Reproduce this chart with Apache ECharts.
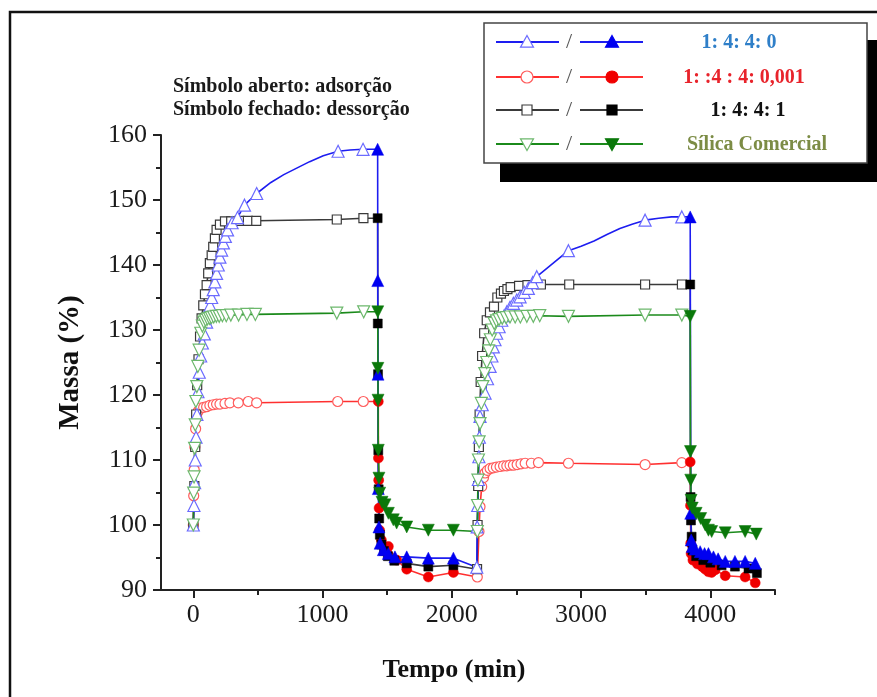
<!DOCTYPE html>
<html><head><meta charset="utf-8">
<script src="https://cdn.jsdelivr.net/npm/echarts@6/dist/echarts.min.js"></script>
<style>html,body{margin:0;padding:0;background:#fff}#c{width:877px;height:697px}</style>
</head><body><div id="c"></div>
<script>
const seriesNames = ['1: 4: 4: 0', '1: :4 : 4: 0,001', '1: 4: 4: 1', 'Sílica Comercial'];
const xTicks = [0, 1000, 2000, 3000, 4000];
const xMinorTicks = [500, 1500, 2500, 3500, 4500];
const noteLines = ['Símbolo aberto: adsorção', 'Símbolo fechado: dessorção'];

// 1: 4: 4: 0 (blue)
const blueAds1 = [[0,100],[5,103],[10,106.5],[15,110],[21,113.5],[28,117],[36,120.5],[46,123.5],[57,126],[70,128],[85,129.4],[103,131.2],[117,132.5],[130,133.8],[142,135],[154,136.2],[167,137.4],[180,138.7],[193,140],[206,141.2],[219,142.3],[233,143.4],[248,144.4],[265,145.4],[300,146.5],[342,147.3],[396,149.2],[490,151],[1120,157.5],[1313,157.8]];
const blueAds1Curve = [[600,152.7],[700,153.9],[800,154.9],[900,155.9],[1005,156.8],[1212,157.7]];
const blueDes1 = [[1426,157.8],[1427,137.6],[1429,123.2],[1431,105.6],[1436,99.7],[1445,97.2],[1470,96.2],[1509,95.6],[1560,95.1],[1651,95.1],[1818,94.9],[2012,94.9]];
const blueAds2 = [[2193,93.5],[2196,99.7],[2200,103],[2205,107],[2209,110.5],[2213,113.5],[2218,116.7],[2235,118.5],[2257,120.3],[2276,122.5],[2296,124.4],[2310,126],[2321,127.4],[2334,128.5],[2347,129.5],[2366,130.5],[2386,131.5],[2405,132.2],[2425,132.8],[2450,133.5],[2476,134.1],[2502,134.6],[2528,135.1],[2560,135.8],[2592,136.4],[2625,137.3],[2657,138.2],[2902,142.2],[3495,146.9],[3779,147.4]];
const blueAds2Curve = [[3000,142.9],[3100,143.7],[3200,144.7],[3300,145.6],[3400,146.3],[3600,147.2],[3700,147.4]];
const blueDes2 = [[3844,147.4],[3848,101.8],[3852,97.7],[3860,96.7],[3882,96.3],[3921,95.9],[3955,95.6],[3985,95.6],[4024,95.1],[4060,94.8],[4115,94.4],[4190,94.4],[4269,94.4],[4347,94.1]];

// 1: :4 : 4: 0,001 (red)
const redAds1 = [[0,100],[3,104.5],[7,108.5],[12,112],[18,114.8],[26,116.5],[38,117.5],[55,118],[80,118.1],[103,118.2],[128,118.4],[154,118.5],[180,118.6],[206,118.6],[245,118.7],[283,118.8],[348,118.8],[425,119],[490,118.8],[1117,119],[1315,119]];
const redDes1 = [[1431,119],[1432,110.3],[1434,106.9],[1437,102.6],[1441,99.2],[1455,97.7],[1509,96.7],[1573,94.6],[1651,93.2],[1818,92],[2012,92.7]];
const redAds2 = [[2197,92],[2210,99],[2218,102.8],[2231,105.9],[2245,107.3],[2257,108],[2275,108.4],[2296,108.7],[2320,108.8],[2345,108.9],[2373,109],[2400,109.1],[2425,109.1],[2450,109.2],[2476,109.2],[2505,109.3],[2535,109.4],[2567,109.5],[2615,109.5],[2670,109.6],[2902,109.5],[3495,109.3],[3779,109.6]];
const redDes2 = [[3844,109.7],[3846,103],[3848,97.2],[3851,95.6],[3865,94.6],[3900,94],[3937,93.6],[3960,93.2],[3985,92.8],[4010,92.7],[4037,93.1],[4115,92.2],[4269,92],[4347,91.1]];

// 1: 4: 4: 1 (black)
const blackAds1 = [[0,100],[8,106],[15,112],[22,117],[30,121.5],[40,125.5],[52,129],[64,131.8],[77,133.8],[90,135.5],[103,136.9],[115,138.7],[128,140.3],[142,141.5],[154,142.8],[167,144.1],[180,145.4],[206,146.2],[245,146.7],[293,146.7],[357,146.8],[422,146.8],[487,146.8],[1110,147],[1316,147.2]];
const blackDes1 = [[1426,147.2],[1427,131],[1429,123.2],[1431,111.5],[1434,105.5],[1438,101],[1443,98.5],[1455,97],[1475,96],[1505,95.2],[1555,94.5],[1651,94.1],[1818,93.6],[2012,93.8]];
const blackAds2 = [[2195,93.2],[2199,100],[2204,106],[2209,112],[2215,117],[2223,122],[2234,126],[2250,129.5],[2270,131.5],[2295,132.7],[2326,133.6],[2352,135],[2380,135.6],[2403,136],[2430,136.3],[2455,136.6],[2520,136.8],[2585,136.9],[2689,137],[2908,137],[3495,137],[3780,137]];
const blackDes2 = [[3844,137],[3847,104.3],[3850,100.7],[3855,98.2],[3862,96.1],[3890,95.2],[3945,94.6],[4000,94.2],[4087,93.8],[4190,93.6],[4295,93.3],[4360,92.6]];

// Sílica Comercial (green)
const greenAds1 = [[0,100],[3,104.9],[6,107.4],[10,111.8],[15,115.4],[20,119],[27,121.3],[35,124.4],[45,126.9],[58,129.5],[70,130.6],[82,131.2],[95,131.5],[110,131.7],[125,131.8],[140,131.9],[158,132],[178,132.1],[200,132.1],[225,132.2],[255,132.2],[290,132.3],[350,132.3],[415,132.4],[480,132.4],[1110,132.6],[1318,132.8]];
const greenDes1 = [[1427,132.8],[1428,124.1],[1429,119.2],[1431,111.5],[1436,107.2],[1442,104.9],[1460,103.5],[1483,103.1],[1509,101.8],[1547,100.8],[1573,100.3],[1651,99.7],[1818,99.2],[2012,99.2]];
const greenAds2 = [[2197,99],[2199,103],[2202,106.9],[2206,110],[2211,112.8],[2218,115.6],[2228,118.7],[2240,121.3],[2255,123.3],[2270,125],[2285,126.8],[2298,128.5],[2312,130],[2328,131],[2345,131.4],[2365,131.6],[2390,131.8],[2420,131.9],[2450,132],[2490,132],[2530,132],[2580,132.1],[2630,132.1],[2680,132.2],[2902,132.1],[3495,132.3],[3779,132.3]];
const greenDes2 = [[3844,132.1],[3846,111.3],[3848,106.9],[3851,103.8],[3860,102.6],[3890,101.8],[3925,101],[3960,100],[3985,99.2],[4010,99],[4115,98.8],[4269,99],[4355,98.6]];

const SERIF = '"Liberation Serif","Times New Roman",serif';
const styles = [
  {sym:'triangle', rot:0,   size:12, line:'#1d1df0', open:'#6b6bff', fill:'#0000f0', legend:'#2f7fc8'},
  {sym:'circle',   rot:0,   size:10, line:'#ff3030', open:'#ff5c5c', fill:'#f00000', legend:'#e8232b'},
  {sym:'rect',     rot:0,   size:9,  line:'#3a3a3a', open:'#3a3a3a', fill:'#000000', legend:'#111111'},
  {sym:'triangle', rot:180, size:12, line:'#1b8a1b', open:'#6cb86c', fill:'#0a780a', legend:'#7c8c45'}
];
const dataSets = [
  [[blueAds1,'open'],[blueAds1Curve,'curve'],[blueDes1,'filled'],[blueAds2,'open'],[blueAds2Curve,'curve'],[blueDes2,'filled']],
  [[redAds1,'open'],[redDes1,'filled'],[redAds2,'open'],[redDes2,'filled']],
  [[blackAds1,'open'],[blackDes1,'filled'],[blackAds2,'open'],[blackDes2,'filled']],
  [[greenAds1,'open'],[greenDes1,'filled'],[greenAds2,'open'],[greenDes2,'filled']]
];

function buildData(parts, st) {
  const out = [];
  let i = 0;
  while (i < parts.length) {
    let [pts, kind] = parts[i];
    let items = pts.map(p => mkItem(p, kind, st));
    if (kind === 'open' && parts[i+1] && parts[i+1][1] === 'curve') {
      items = items.concat(parts[i+1][0].map(p => mkItem(p, 'curve', st)));
      items.sort((a, b) => a.value[0] - b.value[0]);
      i++;
    }
    out.push(...items);
    i++;
  }
  return out;
}
function mkItem(p, kind, st) {
  if (kind === 'curve') return {value: p, symbol: 'none'};
  if (kind === 'open') return {value: p, symbol: st.sym, itemStyle: {color: '#ffffff', borderColor: st.open, borderWidth: 1.2}};
  return {value: p, symbol: st.sym, itemStyle: {color: st.fill, borderColor: st.fill, borderWidth: 0.5}};
}

const order = [1, 2, 0, 3];
const series = order.map(k => ({
  name: seriesNames[k], type: 'line',
  data: buildData(dataSets[k], styles[k]),
  symbolSize: styles[k].size, symbolRotate: styles[k].rot,
  showAllSymbol: true,
  lineStyle: {color: styles[k].line, width: 1.6},
  itemStyle: {color: styles[k].line},
  emphasis: {disabled: true}, animation: false, z: 3
}));

const legRows = [42, 77, 110, 144];
const legTextX = [739, 744, 748, 757];
function symEl(st, cx, cy, filled) {
  const s = {fill: filled ? st.fill : '#fff', stroke: filled ? st.fill : st.open, lineWidth: 1.2};
  if (st.sym === 'circle') return {type:'circle', shape:{cx, cy, r:6}, style:s, z:102};
  if (st.sym === 'rect') return {type:'rect', shape:{x:cx-5, y:cy-5, width:10, height:10}, style:s, z:102};
  const h = 6.5;
  const pts = st.rot === 180 ? [[cx, cy+h], [cx+h, cy-h*0.8], [cx-h, cy-h*0.8]] : [[cx, cy-h], [cx+h, cy+h*0.8], [cx-h, cy+h*0.8]];
  return {type:'polygon', shape:{points:pts}, style:s, z:102};
}
const graphics = [
  {type:'polyline', shape:{points:[[10,697],[10,12],[877,12]]}, style:{stroke:'#111', lineWidth:2.5, fill:null}, z:100},
  {type:'rect', shape:{x:500, y:40, width:400, height:142}, style:{fill:'#000'}, z:100},
  {type:'rect', shape:{x:484, y:23, width:383, height:140}, style:{fill:'#fff', stroke:'#444', lineWidth:1.5}, z:101}
];
styles.forEach((st, k) => {
  const y = legRows[k];
  graphics.push({type:'line', shape:{x1:496, y1:y, x2:559, y2:y}, style:{stroke:st.line, lineWidth:1.8}, z:102});
  graphics.push(symEl(st, 527, y, false));
  graphics.push({type:'text', style:{text:'/', x:569, y:y, fill:'#555', font:'22px ' + SERIF, align:'center', verticalAlign:'middle'}, z:102});
  graphics.push({type:'line', shape:{x1:580, y1:y, x2:643, y2:y}, style:{stroke:st.line, lineWidth:1.8}, z:102});
  graphics.push(symEl(st, 612, y, true));
  graphics.push({type:'text', style:{text:seriesNames[k], x:legTextX[k], y:y+1, fill:st.legend, font:'bold 20px ' + SERIF, align:'center', verticalAlign:'middle'}, z:102});
});
noteLines.forEach((t, i) => {
  graphics.push({type:'text', style:{text:t, x:173, y:87 + i*23, fill:'#1a1a1a', font:'bold 20px ' + SERIF, align:'left', verticalAlign:'middle'}, z:102});
});

const chart = echarts.init(document.getElementById('c'), null, {renderer:'canvas'});
chart.setOption({
  backgroundColor: '#fff',
  animation: false,
  grid: {left: 161, right: 102, top: 135, bottom: 107},
  xAxis: [{
    type: 'value', min: -250, max: 4500,
    name: 'Tempo (min)', nameLocation: 'middle', nameGap: 67,
    nameTextStyle: {fontFamily: SERIF, fontWeight: 'bold', fontSize: 26, color: '#111', padding: [0, 28, 0, 0]},
    axisLine: {onZero: false, lineStyle: {color: '#222', width: 2}},
    axisTick: {customValues: xTicks, length: 8, lineStyle: {color: '#222', width: 2}},
    axisLabel: {customValues: xTicks, formatter: v => String(v), fontFamily: SERIF, fontSize: 26, color: '#1a1a1a', margin: 12},
    splitLine: {show: false}
  }, {
    type: 'value', min: -250, max: 4500, position: 'bottom',
    axisLine: {show: false, onZero: false},
    axisTick: {customValues: xMinorTicks, length: 5, lineStyle: {color: '#222', width: 2}},
    axisLabel: {show: false}, splitLine: {show: false}
  }],
  yAxis: {
    type: 'value', min: 90, max: 160, interval: 10,
    name: 'Massa (%)', nameLocation: 'middle', nameGap: 76, nameRotate: 90,
    nameTextStyle: {fontFamily: SERIF, fontWeight: 'bold', fontSize: 29, color: '#111'},
    axisLine: {onZero: false, lineStyle: {color: '#222', width: 2}},
    axisTick: {length: 8, lineStyle: {color: '#222', width: 2}},
    minorTick: {show: true, splitNumber: 2, length: 5, lineStyle: {color: '#222', width: 2}},
    axisLabel: {formatter: v => String(v), fontFamily: SERIF, fontSize: 26, color: '#1a1a1a', margin: 14},
    splitLine: {show: false}, minorSplitLine: {show: false}
  },
  series: series,
  graphic: graphics
});
</script></body></html>
